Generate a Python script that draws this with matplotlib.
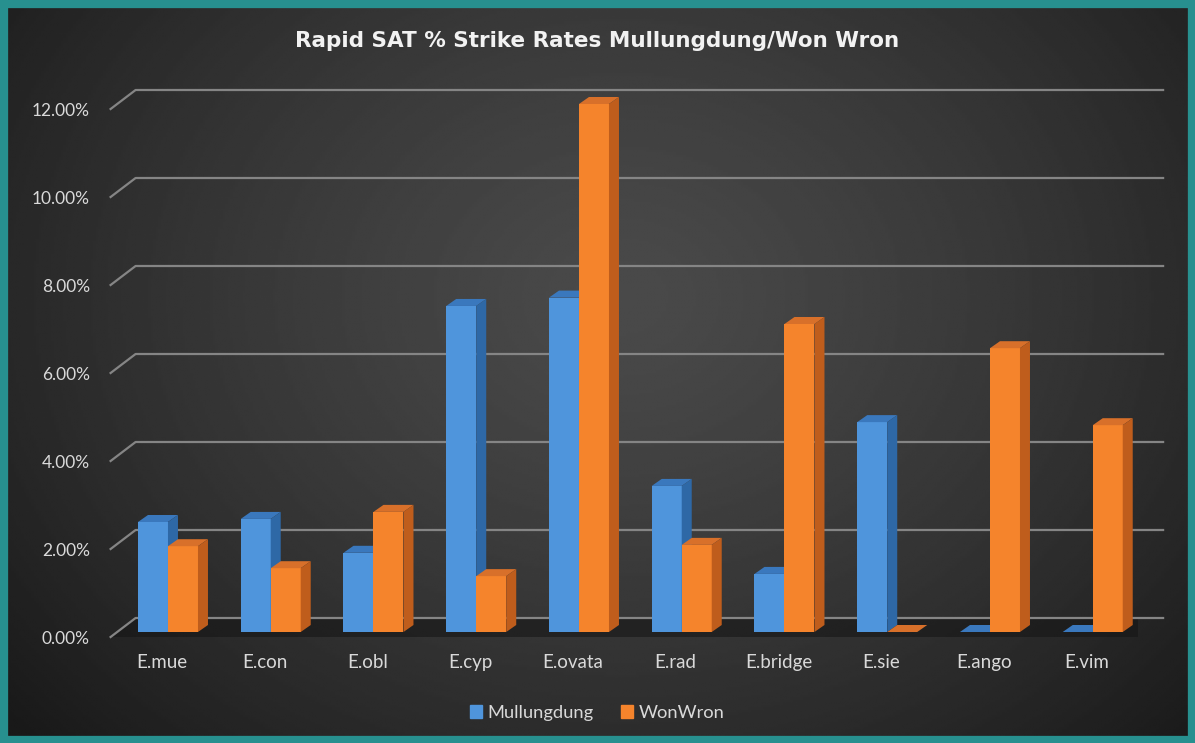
import numpy as np
import matplotlib.pyplot as plt
from matplotlib.patches import Polygon, Rectangle
from matplotlib import ticker

categories = ["E.mue", "E.con", "E.obl", "E.cyp", "E.ovata",
              "E.rad", "E.bridge", "E.sie", "E.ango", "E.vim"]
mullungdung = [0.0250, 0.0257, 0.0180, 0.0741, 0.0760,
               0.0332, 0.0132, 0.0477, 0.0, 0.0]
wonwron = [0.0195, 0.0145, 0.0273, 0.0127, 0.1200,
           0.0198, 0.0700, 0.0, 0.0645, 0.0470]
series_names = ["Mullungdung", "WonWron"]
yticks = [0.0, 0.02, 0.04, 0.06, 0.08, 0.10, 0.12]
title = "Rapid SAT % Strike Rates Mullungdung/Won Wron"

plt.rcParams['font.family'] = ['Lato', 'DejaVu Sans']

W, H = 1195, 743
fig = plt.figure(figsize=(W / 100, H / 100), dpi=100)

# dark radial background
bg = fig.add_axes([0, 0, 1, 1], zorder=-10)
yy, xx = np.mgrid[0:1:300j, 0:1:480j]
r = np.sqrt(((xx - 0.52) / 0.62) ** 2 + ((yy - 0.40) / 0.80) ** 2)
shade = np.clip(0.29 - 0.17 * r ** 1.3, 0.10, 1)
bg.imshow(shade, cmap='gray', vmin=0, vmax=1, extent=[0, 1, 0, 1],
          aspect='auto', interpolation='bilinear')
bg.axis('off')

# pixel scale of the plot: 102.75 px per category, 4400 px per unit
px_x, px_y = 102.75, 4400.0
ax = fig.add_axes([110.6 / W, 106 / H, 1027.5 / W, 572 / H])
ax.set_facecolor('none')
ax.set_xlim(-0.5, 9.5)
ax.set_ylim(0, 0.13)
for s in ax.spines.values():
    s.set_visible(False)

# back wall gridlines (3D offset)
gx, gy = 25 / px_x, 19 / px_y
for v in yticks:
    ax.plot([-0.5, -0.5 + gx, 9.5 + gx], [v, v + gy, v + gy],
            color='#858585', lw=1.6, zorder=1, clip_on=False)

# floor
ax.add_patch(Polygon([(-0.5, 0), (9.5, 0), (9.5 + gx, gy), (-0.5 + gx, gy)],
                     closed=True, color='#161616', alpha=0.6, lw=0, zorder=0.5))

x = np.arange(len(categories))
bw = 30 / px_x
shift = 6 / px_x
base = 5 / px_y
dx, dy = 10 / px_x, 7 / px_y

styles = [
    ('#4f95dc', '#3a78bd', '#2e68a6'),  # blue front, top, side
    ('#f5842c', '#d8702a', '#bf5d1c'),  # orange
]

for k, (vals, (c_front, c_top, c_side)) in enumerate(zip([mullungdung, wonwron], styles)):
    offs = shift - bw / 2 if k == 0 else shift + bw / 2
    z = 3 + k
    bars = ax.bar(x + offs, vals, bw, bottom=base, color=c_front, zorder=z, lw=0)
    for rect in bars:
        x0 = rect.get_x()
        x1 = x0 + rect.get_width()
        y0 = rect.get_y()
        top = y0 + rect.get_height()
        ax.add_patch(Polygon([(x0, top), (x1, top), (x1 + dx, top + dy), (x0 + dx, top + dy)],
                             closed=True, color=c_top, lw=0, zorder=z + 0.5))
        ax.add_patch(Polygon([(x1, y0), (x1, top), (x1 + dx, top + dy), (x1 + dx, y0 + dy)],
                             closed=True, color=c_side, lw=0, zorder=z + 0.5))

ax.set_xticks(x, categories)
ax.set_yticks(yticks)
ax.yaxis.set_major_formatter(ticker.FuncFormatter(lambda v, p: f"{v * 100:.2f}%"))
ax.tick_params(axis='x', length=0, pad=12, labelsize=13.5, colors='#d9d9d9')
ax.tick_params(axis='y', length=0, pad=15, labelsize=12.5, colors='#d9d9d9')

handles = [Rectangle((0, 0), 1, 1, color=styles[0][0]),
           Rectangle((0, 0), 1, 1, color=styles[1][0])]
fig.legend(handles, series_names, loc='center', bbox_to_anchor=(0.5, 30 / H),
           ncol=2, frameon=False, handlelength=0.65, handleheight=0.65,
           handletextpad=0.3, columnspacing=1.5, labelcolor='#d9d9d9', fontsize=13.2)

fig.text(0.5, 1 - 41 / H, title, ha='center', va='center', fontsize=15.5,
         fontweight='bold', color='#f2f2f2', family='DejaVu Sans')

fig.add_artist(Rectangle((0, 0), 1, 1, transform=fig.transFigure, fill=False,
                         edgecolor='#27908f', lw=11, zorder=20))

fig.savefig("out.png", dpi=100)
